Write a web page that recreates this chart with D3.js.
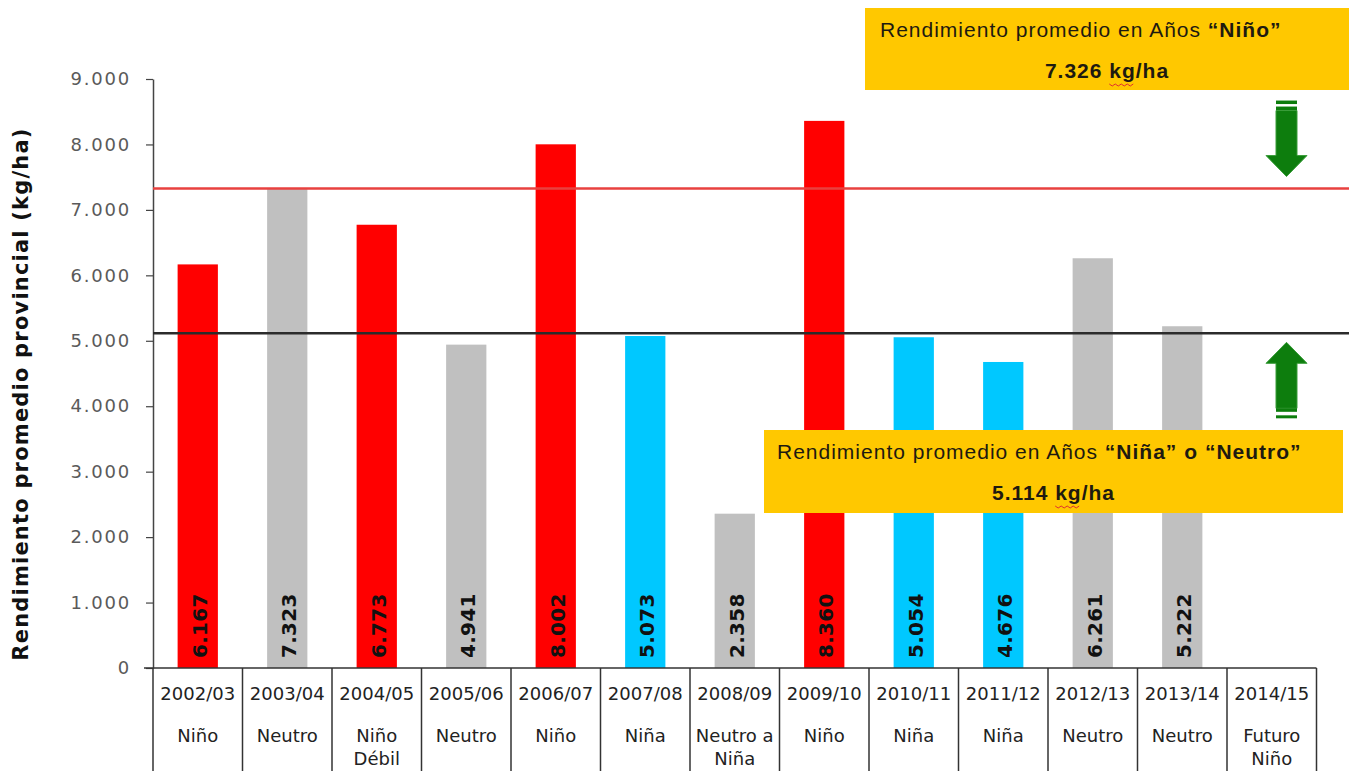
<!DOCTYPE html>
<html>
<head>
<meta charset="utf-8">
<script src="https://cdn.jsdelivr.net/npm/d3@7"></script>
<style>
  body { margin: 0; background: #fff; }
  svg { display: block; }
</style>
</head>
<body>
<svg id="chart"></svg>
<script>
// campañas, fase ENSO y rendimiento (kg/ha)
var seasons = ["2002/03","2003/04","2004/05","2005/06","2006/07","2007/08","2008/09","2009/10","2010/11","2011/12","2012/13","2013/14","2014/15"];
var phaseLabels = [["Niño"],["Neutro"],["Niño","Débil"],["Neutro"],["Niño"],["Niña"],["Neutro a","Niña"],["Niño"],["Niña"],["Niña"],["Neutro"],["Neutro"],["Futuro","Niño"]];
var phaseType = ["Niño","Neutro","Niño","Neutro","Niño","Niña","Neutro","Niño","Niña","Niña","Neutro","Neutro",null];
var yields = [6167,7323,6773,4941,8002,5073,2358,8360,5054,4676,6261,5222,null];
var yTicks = [0,1000,2000,3000,4000,5000,6000,7000,8000,9000];
var avgNino = 7326,
    avgOther = 5114;

var width = 1349,
    height = 771;

var colors = { "Niño": "#ff0000", "Neutro": "#c0c0c0", "Niña": "#00c8ff" };
var fmt = d3.formatLocale({ decimal: ",", thousands: ".", grouping: [3], currency: ["$",""] }).format(",");

var svg = d3.select("#chart")
    .attr("width", width)
    .attr("height", height);

var x = d3.scaleBand().domain(seasons).range([153, 1316.5]); // one column per campaña
var y = d3.scaleLinear().domain([0, 9000]).range([668, 79]);
var barW = x.bandwidth() * 0.45;

var data = seasons.map(function(s, i) {
  return { season: s, value: yields[i], type: phaseType[i], phase: phaseLabels[i] };
});

// y axis
var yAxis = svg.append("g")
    .attr("transform", "translate(153,0)")
    .call(d3.axisLeft(y).tickValues(yTicks).tickSize(7).tickSizeOuter(0).tickPadding(15).tickFormat(fmt));
yAxis.select(".domain").attr("stroke", "#444").attr("stroke-width", 1.5);
yAxis.selectAll(".tick line").attr("stroke", "#444").attr("stroke-width", 1.2);
yAxis.selectAll(".tick text")
    .attr("fill", "#5a5a5a")
    .style("font-family", "'DejaVu Sans', Verdana, sans-serif")
    .style("font-size", "18px")
    .style("letter-spacing", "1.8px");

// y title
svg.append("text")
    .attr("transform", "translate(28," + ((y(0) + 120) / 2) + ") rotate(-90)")
    .attr("text-anchor", "middle")
    .style("font-family", "'DejaVu Sans', Verdana, sans-serif")
    .style("font-weight", "bold")
    .style("font-size", "21px")
    .style("letter-spacing", "1.2px")
    .attr("fill", "#111")
    .text("Rendimiento promedio provincial (kg/ha)");

// bars
var bars = svg.selectAll("g.bar")
    .data(data.filter(function(d) { return d.value != null; }))
  .enter().append("g")
    .attr("class", "bar");

bars.append("rect")
    .attr("x", function(d) { return x(d.season) + (x.bandwidth() - barW) / 2; })
    .attr("y", function(d) { return y(d.value); })
    .attr("width", barW)
    .attr("height", function(d) { return y(0) - y(d.value); })
    .attr("fill", function(d) { return colors[d.type]; });

bars.append("text") // vertical value inside bar, from bottom
    .attr("transform", function(d) {
      return "translate(" + (x(d.season) + x.bandwidth() / 2 + 9) + "," + (y(0) - 10) + ") rotate(-90)";
    })
    .style("font-family", "'DejaVu Sans', Verdana, sans-serif")
    .style("font-weight", "bold")
    .style("font-size", "20px")
    .style("letter-spacing", "0.3px")
    .attr("fill", "#111")
    .text(function(d) { return fmt(d.value); });

// average lines
svg.append("line")
    .attr("x1", 153).attr("x2", width)
    .attr("y1", y(avgNino)).attr("y2", y(avgNino))
    .attr("stroke", "#e8413f").attr("stroke-width", 2.5);
svg.append("line")
    .attr("x1", 153).attr("x2", width)
    .attr("y1", y(avgOther)).attr("y2", y(avgOther))
    .attr("stroke", "#2b2b2b").attr("stroke-width", 2.5);

// table under the axis
svg.append("line")
    .attr("x1", 144).attr("x2", x.range()[1])
    .attr("y1", y(0)).attr("y2", y(0))
    .attr("stroke", "#333").attr("stroke-width", 1.5);

var edges = seasons.map(function(s) { return x(s); }).concat([x.range()[1]]);
svg.selectAll("line.col")
    .data(edges)
  .enter().append("line")
    .attr("class", "col")
    .attr("x1", function(d) { return d; }).attr("x2", function(d) { return d; })
    .attr("y1", y(0)).attr("y2", height)
    .attr("stroke", "#333").attr("stroke-width", 1.5);

var cell = svg.selectAll("g.cell")
    .data(data)
  .enter().append("g")
    .attr("class", "cell")
    .attr("transform", function(d) { return "translate(" + (x(d.season) + x.bandwidth() / 2) + ",0)"; })
    .style("font-family", "'DejaVu Sans', Verdana, sans-serif")
    .style("font-size", "18px")
    .attr("text-anchor", "middle")
    .attr("fill", "#222");

cell.append("text")
    .attr("y", 700)
    .text(function(d) { return d.season; });

cell.selectAll("text.phase")
    .data(function(d) { return d.phase; })
  .enter().append("text")
    .attr("class", "phase")
    .attr("y", function(d, i) { return 742 + i * 23; })
    .text(function(d) { return d; });

// green arrows
function arrow(cx, tip, dir) { // dir 1 = pointing down, -1 = up
  var hw = 20.5, sw = 10.5, hh = 21, sh = 45;
  var base = tip - dir * hh, end = base - dir * sh;
  return "M" + cx + "," + tip + "L" + (cx - hw) + "," + base + "L" + (cx - sw) + "," + base +
         "L" + (cx - sw) + "," + end + "L" + (cx + sw) + "," + end + "L" + (cx + sw) + "," + base +
         "L" + (cx + hw) + "," + base + "Z";
}
var green = "#0d7d0d";
var ax = 1286.5;
svg.append("path").attr("d", arrow(ax, y(avgNino) - 12, 1)).attr("fill", green).attr("stroke", "#3a9d3a").attr("stroke-width", 1);
svg.append("path").attr("d", arrow(ax, y(avgOther) + 9, -1)).attr("fill", green).attr("stroke", "#3a9d3a").attr("stroke-width", 1);
[[y(avgNino) - 88, 3.5], [y(avgNino) - 82, 3.5], [y(avgOther) + 75, 3.5], [y(avgOther) + 82, 3]].forEach(function(s) {
  svg.append("rect")
      .attr("x", ax - 10.5).attr("y", s[0])
      .attr("width", 21).attr("height", s[1])
      .attr("fill", green);
});

// yellow annotation boxes
function note(bx, by, bw, bh, plain, boldPart, tailPlain, tailBold, value, tx) {
  var g = svg.append("g");
  g.append("rect")
      .attr("x", bx).attr("y", by)
      .attr("width", bw).attr("height", bh)
      .attr("fill", "#ffc800");
  var t1 = g.append("text")
      .attr("x", tx).attr("y", by + 29)
      .style("font-family", "'Liberation Sans', Arial, sans-serif")
      .style("font-size", "21px")
      .style("letter-spacing", "1px")
      .attr("fill", "#1e1a10");
  t1.append("tspan").text(plain);
  t1.append("tspan").style("font-weight", "bold").text(boldPart);
  if (tailPlain) t1.append("tspan").style("font-weight", "bold").text(tailPlain);
  if (tailBold) t1.append("tspan").style("font-weight", "bold").text(tailBold);
  var t2 = g.append("text")
      .attr("x", bx + bw / 2).attr("y", by + 70)
      .attr("text-anchor", "middle")
      .style("font-family", "'Liberation Sans', Arial, sans-serif")
      .style("font-size", "21px")
      .style("font-weight", "bold")
      .style("letter-spacing", "1px")
      .attr("fill", "#1e1a10")
      .text(fmt(value) + " kg/ha");

  // spell-check squiggle under "kg"
  var node = t2.node(), k = node.textContent.indexOf("kg");
  var x0 = node.getStartPositionOfChar(k).x, x1 = node.getEndPositionOfChar(k + 1).x;
  var pts = d3.range(x0, x1, 3).map(function(px, i) { return [px, by + 76 + (i % 2 ? 2 : 0)]; });
  g.append("path")
      .attr("d", d3.line()(pts))
      .attr("fill", "none")
      .attr("stroke", "#e03030")
      .attr("stroke-width", 1);
}
note(865, 8, 484, 82, "Rendimiento promedio en Años ", "\u201CNiño\u201D", null, null, avgNino, 880);
note(764, 430, 579, 83, "Rendimiento promedio en Años ", "\u201CNiña\u201D", " o ", "\u201CNeutro\u201D", avgOther, 777);
</script>
</body>
</html>
